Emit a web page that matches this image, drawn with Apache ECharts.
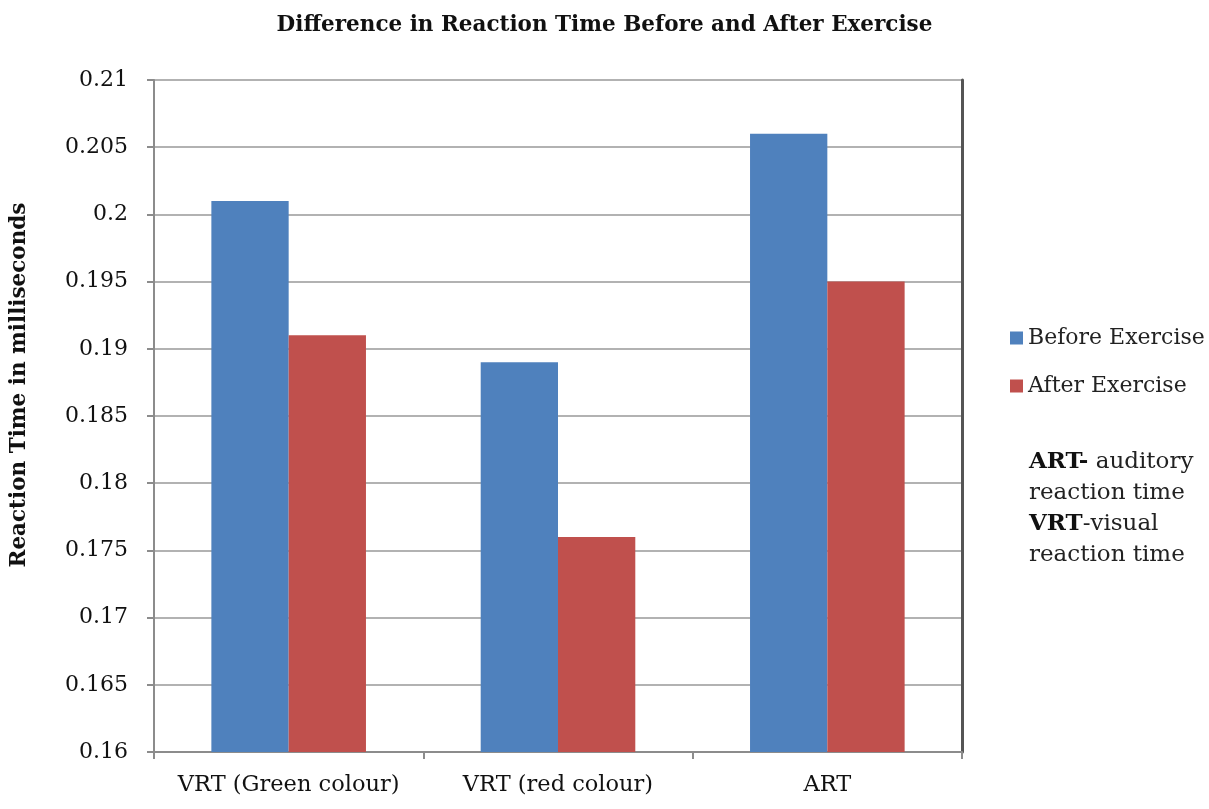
<!DOCTYPE html>
<html>
<head>
<meta charset="utf-8">
<script src="https://cdn.jsdelivr.net/npm/echarts@6/dist/echarts.min.js"></script>
<style>html,body{margin:0;padding:0;background:#fff;}#chart{width:1209px;height:809px;}</style>
</head>
<body>
<div id="chart"></div>
<script>
const categories = ['VRT (Green colour)', 'VRT (red colour)', 'ART'];
const beforeExercise = [0.201, 0.189, 0.206];
const afterExercise = [0.191, 0.176, 0.195];
const seriesNames = ['Before Exercise', 'After Exercise'];
const titleText = 'Difference in Reaction Time Before and After Exercise';
const yAxisTitle = 'Reaction Time in milliseconds';

const FONT = '"DejaVu Serif", serif';
const chart = echarts.init(document.getElementById('chart'));
chart.setOption({
  backgroundColor: '#fff',
  animation: false,
  title: {
    text: titleText, left: 'center', top: 9,
    textStyle: { fontFamily: FONT, fontSize: 21.5, fontWeight: 'bold', color: '#111' }
  },
  legend: {
    orient: 'vertical', left: 1005, top: 322,
    itemWidth: 13, itemHeight: 13, itemGap: 26,
    icon: 'rect',
    textStyle: { fontFamily: FONT, fontSize: 22, color: '#222' },
    data: seriesNames
  },
  grid: { left: 152, right: 247, top: 80, bottom: 57, containLabel: false },
  xAxis: {
    type: 'category', data: categories,
    axisLine: { lineStyle: { color: '#8c8c8c', width: 2 } },
    axisTick: { show: true, length: 7, lineStyle: { color: '#8c8c8c', width: 2 } },
    axisLabel: { fontFamily: FONT, fontSize: 22.5, color: '#111', margin: 22, interval: 0, hideOverlap: false }
  },
  yAxis: [{
    type: 'value', min: 0.16, max: 0.21, interval: 0.005,
    name: yAxisTitle, nameLocation: 'middle', nameGap: 124, nameRotate: 90,
    nameTextStyle: { fontFamily: FONT, fontSize: 21.5, fontWeight: 'bold', color: '#111', padding: [0, 0, 0, 62] },
    axisLine: { show: true, lineStyle: { color: '#8c8c8c', width: 2 } },
    axisTick: { show: true, length: 7, lineStyle: { color: '#8c8c8c', width: 2 } },
    axisLabel: { fontFamily: FONT, fontSize: 22, color: '#111', margin: 26,
      formatter: v => String(parseFloat(v.toFixed(3))) },
    splitLine: { show: true, lineStyle: { color: '#999', width: 1.5 } }
  }, {
    type: 'value', min: 0.16, max: 0.21, interval: 0.005, position: 'right',
    axisLine: { show: true, lineStyle: { color: '#555', width: 3 } },
    axisTick: { show: false }, axisLabel: { show: false }, splitLine: { show: false }
  }],
  series: [
    { name: seriesNames[0], type: 'bar', data: beforeExercise, barGap: '0%', barCategoryGap: '42.6%',
      itemStyle: { color: '#4F81BD' } },
    { name: seriesNames[1], type: 'bar', data: afterExercise, barGap: '0%', barCategoryGap: '42.6%',
      itemStyle: { color: '#C0504D' } }
  ],
  graphic: [{
    type: 'text', left: 1029, top: 447,
    style: {
      text: '{b|ART-} auditory\nreaction time\n{b|VRT}-visual\nreaction time',
      font: '23px ' + FONT, fill: '#222', lineHeight: 31,
      rich: { b: { fontFamily: FONT, fontSize: 23, fontWeight: 'bold', fill: '#111', lineHeight: 31 } }
    }
  }]
});
</script>
</body>
</html>
